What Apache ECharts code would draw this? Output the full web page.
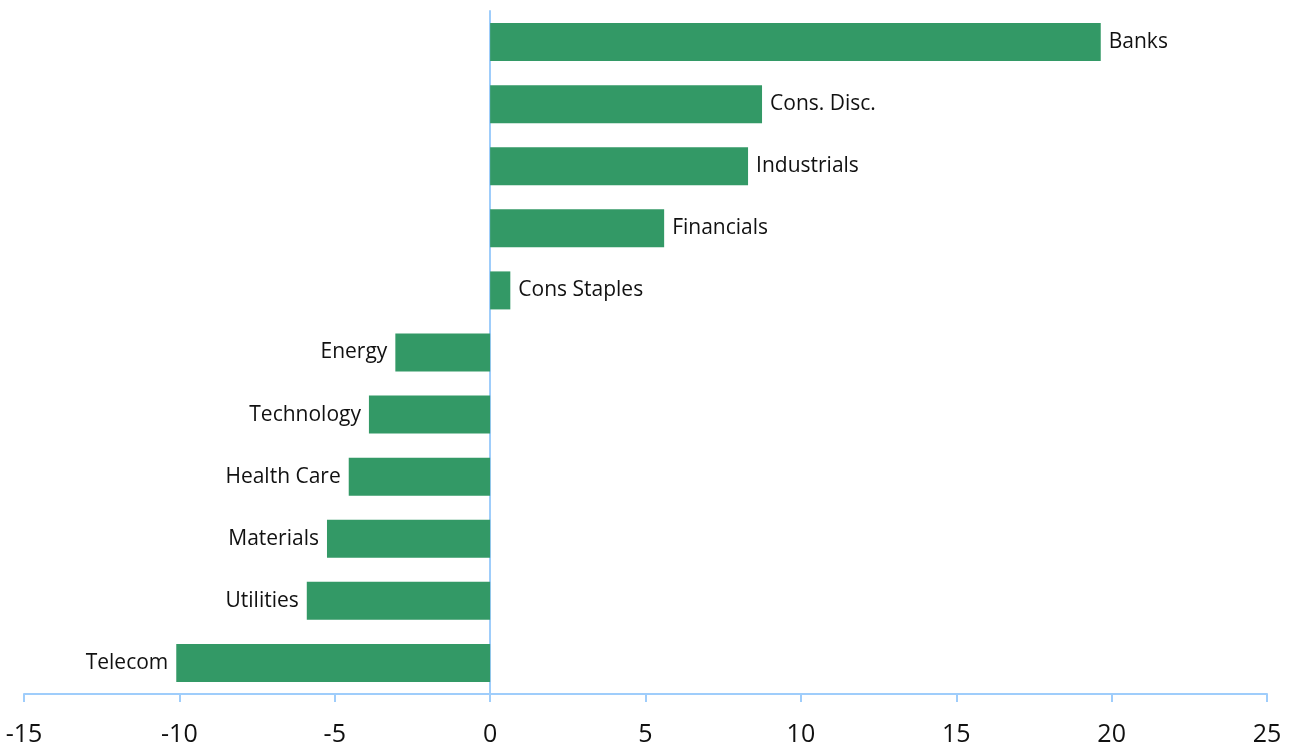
<!DOCTYPE html>
<html>
<head>
<meta charset="utf-8">
<script src="https://cdn.jsdelivr.net/npm/echarts@6/dist/echarts.min.js"></script>
<style>
  html, body { margin: 0; padding: 0; background: #fff; }
  #chart { width: 1290px; height: 747px; }
</style>
</head>
<body>
<div id="chart"></div>
<script>
// Sector returns, listed bottom to top
const sectors = ['Telecom', 'Utilities', 'Materials', 'Health Care', 'Technology', 'Energy',
                 'Cons Staples', 'Financials', 'Industrials', 'Cons. Disc.', 'Banks'];
const returns = [-10.1, -5.9, -5.25, -4.55, -3.9, -3.05, 0.65, 5.6, 8.3, 8.75, 19.65];
const xTicks = [-15, -10, -5, 0, 5, 10, 15, 20, 25];

const axisBlue = '#9fcdfb';
const barGreen = '#339966';
const fontFam = '"Open Sans", "Noto Sans", sans-serif';

const chart = echarts.init(document.getElementById('chart'));
chart.setOption({
  animation: false,
  grid: { left: 24, right: 23, top: 11, bottom: 53, containLabel: false },
  xAxis: {
    type: 'value',
    min: xTicks[0],
    max: xTicks[xTicks.length - 1],
    interval: 5,
    splitLine: { show: false },
    axisLine: { show: true, onZero: false, lineStyle: { color: axisBlue, width: 2 } },
    axisTick: { show: true, length: 8, lineStyle: { color: axisBlue, width: 2 } },
    axisLabel: { color: '#111', fontSize: 25, fontFamily: fontFam, margin: 28 }
  },
  yAxis: {
    type: 'category',
    data: sectors,
    axisLine: { show: true, onZero: true, lineStyle: { color: axisBlue, width: 2 } },
    axisTick: { show: false },
    axisLabel: { show: false }
  },
  series: [{
    type: 'bar',
    barWidth: 38,
    itemStyle: { color: barGreen },
    data: returns.map(v => ({
      value: v,
      label: { position: v >= 0 ? 'right' : 'left' }
    })),
    label: {
      show: true,
      color: '#111',
      fontSize: 21,
      fontFamily: fontFam,
      distance: 8,
      formatter: p => sectors[p.dataIndex]
    }
  }]
});
</script>
</body>
</html>
